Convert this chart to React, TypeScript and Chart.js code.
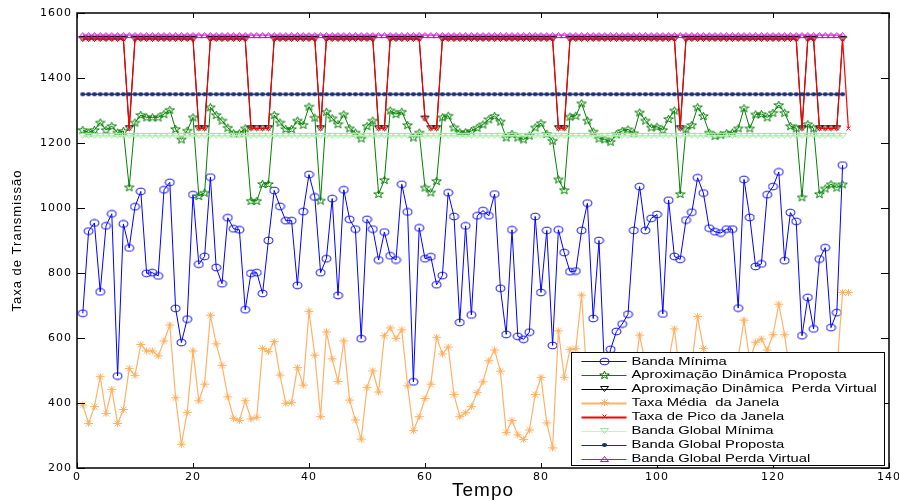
import React, { useEffect, useRef } from "react";
import { Chart, registerables } from "chart.js";
Chart.register(...registerables);

const tempo = [
  1, 2, 3, 4, 5, 6, 7, 8, 9, 10, 11, 12, 13, 14, 15, 16, 17, 18, 19, 20,
  21, 22, 23, 24, 25, 26, 27, 28, 29, 30, 31, 32, 33, 34, 35, 36, 37, 38, 39, 40,
  41, 42, 43, 44, 45, 46, 47, 48, 49, 50, 51, 52, 53, 54, 55, 56, 57, 58, 59, 60,
  61, 62, 63, 64, 65, 66, 67, 68, 69, 70, 71, 72, 73, 74, 75, 76, 77, 78, 79, 80,
  81, 82, 83, 84, 85, 86, 87, 88, 89, 90, 91, 92, 93, 94, 95, 96, 97, 98, 99, 100,
  101, 102, 103, 104, 105, 106, 107, 108, 109, 110, 111, 112, 113, 114, 115, 116, 117, 118, 119, 120,
  121, 122, 123, 124, 125, 126, 127, 128, 129, 130, 131, 132, 133,
];

const xTickLabels = ["0", "20", "40", "60", "80", "100", "120", "140"];
const yTickLabels = ["200", "400", "600", "800", "1000", "1200", "1400", "1600"];

const bandaMinima = [
  676, 929, 954, 742, 945, 982, 483, 951, 877, 1004,
  1051, 799, 801, 791, 1056, 1079, 691, 586, 658, 1041,
  827, 851, 1095, 817, 767, 970, 936, 933, 687, 799,
  801, 737, 900, 1054, 1005, 961, 961, 762, 989, 1103,
  1034, 801, 844, 1029, 731, 1056, 965, 935, 598, 965,
  935, 840, 926, 853, 840, 1073, 988, 465, 939, 844,
  850, 764, 792, 1047, 974, 648, 945, 671, 976, 992,
  976, 1043, 753, 611, 933, 605, 596, 618, 974, 740,
  931, 577, 933, 863, 804, 806, 931, 1015, 660, 900,
  480, 565, 620, 643, 673, 931, 1066, 931, 968, 980,
  674, 1024, 851, 842, 963, 987, 1093, 1046, 938, 927,
  923, 935, 935, 692, 1088, 971, 820, 828, 1041, 1066,
  1111, 838, 986, 959, 607, 725, 628, 843, 878, 632,
  678, 1132,
];

const aproxProposta = [
  1240, 1232, 1240, 1263, 1240, 1252, 1232, 1237, 1064, 1263,
  1286, 1279, 1279, 1279, 1289, 1302, 1243, 1211, 1238, 1279,
  1037, 1047, 1310, 1286, 1269, 1247, 1230, 1230, 1245, 1022,
  1022, 1074, 1074, 1286, 1263, 1243, 1243, 1269, 1256, 1312,
  1278, 1023, 1296, 1276, 1258, 1288, 1245, 1232, 1214, 1252,
  1269, 1043, 1086, 1300, 1289, 1296, 1255, 1217, 1232, 1063,
  1048, 1083, 1279, 1284, 1248, 1233, 1233, 1237, 1247, 1257,
  1273, 1283, 1266, 1217, 1228, 1217, 1211, 1223, 1248, 1261,
  1228, 1207, 1088, 1055, 1281, 1284, 1322, 1269, 1235, 1214,
  1211, 1204, 1227, 1237, 1242, 1230, 1294, 1269, 1248, 1250,
  1240, 1274, 1300, 1043, 1242, 1255, 1310, 1283, 1232, 1222,
  1225, 1230, 1232, 1245, 1307, 1245, 1288, 1289, 1279, 1293,
  1317, 1293, 1252, 1245, 1033, 1258, 1245, 1043, 1060, 1073,
  1063, 1073,
];

const aproxPerdaVirtual = [
  1520, 1520, 1520, 1520, 1520, 1520, 1520, 1520, 1245, 1520,
  1520, 1520, 1520, 1520, 1520, 1520, 1520, 1520, 1520, 1520,
  1245, 1245, 1520, 1520, 1520, 1520, 1520, 1520, 1520, 1245,
  1245, 1245, 1245, 1520, 1520, 1520, 1520, 1520, 1520, 1520,
  1520, 1245, 1520, 1520, 1520, 1520, 1520, 1520, 1520, 1520,
  1520, 1245, 1245, 1520, 1520, 1520, 1520, 1520, 1520, 1275,
  1245, 1245, 1520, 1520, 1520, 1520, 1520, 1520, 1520, 1520,
  1520, 1520, 1520, 1520, 1520, 1520, 1520, 1520, 1520, 1520,
  1520, 1520, 1245, 1245, 1520, 1520, 1520, 1520, 1520, 1520,
  1520, 1520, 1520, 1520, 1520, 1520, 1520, 1520, 1520, 1520,
  1520, 1520, 1520, 1245, 1520, 1520, 1520, 1520, 1520, 1520,
  1520, 1520, 1520, 1520, 1520, 1520, 1520, 1520, 1520, 1520,
  1520, 1520, 1520, 1520, 1245, 1520, 1520, 1245, 1245, 1245,
  1245, 1520,
];

const taxaMediaJanela = [
  394, 337, 389, 481, 368, 442, 337, 380, 506, 485,
  580, 560, 560, 545, 591, 640, 416, 273, 371, 560,
  407, 458, 670, 582, 516, 419, 353, 346, 407, 351,
  356, 568, 558, 589, 486, 399, 401, 509, 455, 682,
  547, 358, 619, 536, 466, 591, 409, 348, 289, 448,
  499, 434, 607, 631, 599, 625, 453, 315, 358, 414,
  458, 602, 551, 572, 426, 358, 370, 389, 432, 465,
  530, 563, 498, 309, 346, 302, 288, 317, 426, 479,
  339, 262, 622, 479, 565, 567, 732, 450, 380, 520,
  470, 400, 430, 510, 540, 480, 609, 520, 450, 500,
  420, 530, 628, 480, 400, 520, 666, 568, 470, 430,
  520, 490, 430, 540, 655, 530, 587, 597, 563, 610,
  704, 610, 480, 380, 430, 520, 470, 400, 450, 530,
  500, 740, 740,
];

const taxaPicoJanela = [
  1520, 1520, 1520, 1520, 1520, 1520, 1520, 1520, 1245, 1520,
  1520, 1520, 1520, 1520, 1520, 1520, 1520, 1520, 1520, 1520,
  1245, 1245, 1520, 1520, 1520, 1520, 1520, 1520, 1520, 1245,
  1245, 1245, 1245, 1520, 1520, 1520, 1520, 1520, 1520, 1520,
  1520, 1245, 1520, 1520, 1520, 1520, 1520, 1520, 1520, 1520,
  1520, 1245, 1245, 1520, 1520, 1520, 1520, 1520, 1520, 1275,
  1245, 1245, 1520, 1520, 1520, 1520, 1520, 1520, 1520, 1520,
  1520, 1520, 1520, 1520, 1520, 1520, 1520, 1520, 1520, 1520,
  1520, 1520, 1245, 1245, 1520, 1520, 1520, 1520, 1520, 1520,
  1520, 1520, 1520, 1520, 1520, 1520, 1520, 1520, 1520, 1520,
  1520, 1520, 1520, 1245, 1520, 1520, 1520, 1520, 1520, 1520,
  1520, 1520, 1520, 1520, 1520, 1520, 1520, 1520, 1520, 1520,
  1520, 1520, 1520, 1520, 1245, 1520, 1520, 1245, 1245, 1245,
  1245, 1520, 1245,
];

const bandaGlobalMinima = [
  1222, 1222, 1222, 1222, 1222, 1222, 1222, 1222, 1222, 1222,
  1222, 1222, 1222, 1222, 1222, 1222, 1222, 1222, 1222, 1222,
  1222, 1222, 1222, 1222, 1222, 1222, 1222, 1222, 1222, 1222,
  1222, 1222, 1222, 1222, 1222, 1222, 1222, 1222, 1222, 1222,
  1222, 1222, 1222, 1222, 1222, 1222, 1222, 1222, 1222, 1222,
  1222, 1222, 1222, 1222, 1222, 1222, 1222, 1222, 1222, 1222,
  1222, 1222, 1222, 1222, 1222, 1222, 1222, 1222, 1222, 1222,
  1222, 1222, 1222, 1222, 1222, 1222, 1222, 1222, 1222, 1222,
  1222, 1222, 1222, 1222, 1222, 1222, 1222, 1222, 1222, 1222,
  1222, 1222, 1222, 1222, 1222, 1222, 1222, 1222, 1222, 1222,
  1222, 1222, 1222, 1222, 1222, 1222, 1222, 1222, 1222, 1222,
  1222, 1222, 1222, 1222, 1222, 1222, 1222, 1222, 1222, 1222,
  1222, 1222, 1222, 1222, 1222, 1222, 1222, 1222, 1222, 1222,
  1222, 1222,
];

const bandaGlobalProposta = [
  1350, 1350, 1350, 1350, 1350, 1350, 1350, 1350, 1350, 1350,
  1350, 1350, 1350, 1350, 1350, 1350, 1350, 1350, 1350, 1350,
  1350, 1350, 1350, 1350, 1350, 1350, 1350, 1350, 1350, 1350,
  1350, 1350, 1350, 1350, 1350, 1350, 1350, 1350, 1350, 1350,
  1350, 1350, 1350, 1350, 1350, 1350, 1350, 1350, 1350, 1350,
  1350, 1350, 1350, 1350, 1350, 1350, 1350, 1350, 1350, 1350,
  1350, 1350, 1350, 1350, 1350, 1350, 1350, 1350, 1350, 1350,
  1350, 1350, 1350, 1350, 1350, 1350, 1350, 1350, 1350, 1350,
  1350, 1350, 1350, 1350, 1350, 1350, 1350, 1350, 1350, 1350,
  1350, 1350, 1350, 1350, 1350, 1350, 1350, 1350, 1350, 1350,
  1350, 1350, 1350, 1350, 1350, 1350, 1350, 1350, 1350, 1350,
  1350, 1350, 1350, 1350, 1350, 1350, 1350, 1350, 1350, 1350,
  1350, 1350, 1350, 1350, 1350, 1350, 1350, 1350, 1350, 1350,
  1350, 1350,
];

const bandaGlobalPerdaVirtual = [
  1532, 1532, 1532, 1532, 1532, 1532, 1532, 1532, 1532, 1532,
  1532, 1532, 1532, 1532, 1532, 1532, 1532, 1532, 1532, 1532,
  1532, 1532, 1532, 1532, 1532, 1532, 1532, 1532, 1532, 1532,
  1532, 1532, 1532, 1532, 1532, 1532, 1532, 1532, 1532, 1532,
  1532, 1532, 1532, 1532, 1532, 1532, 1532, 1532, 1532, 1532,
  1532, 1532, 1532, 1532, 1532, 1532, 1532, 1532, 1532, 1532,
  1532, 1532, 1532, 1532, 1532, 1532, 1532, 1532, 1532, 1532,
  1532, 1532, 1532, 1532, 1532, 1532, 1532, 1532, 1532, 1532,
  1532, 1532, 1532, 1532, 1532, 1532, 1532, 1532, 1532, 1532,
  1532, 1532, 1532, 1532, 1532, 1532, 1532, 1532, 1532, 1532,
  1532, 1532, 1532, 1532, 1532, 1532, 1532, 1532, 1532, 1532,
  1532, 1532, 1532, 1532, 1532, 1532, 1532, 1532, 1532, 1532,
  1532, 1532, 1532, 1532, 1532, 1532, 1532, 1532, 1532, 1532,
  1532, 1532,
];

const seriesLabels = [
  "Banda Mínima",
  "Aproximação Dinâmica Proposta",
  "Aproximação Dinâmica  Perda Virtual",
  "Taxa Média  da Janela",
  "Taxa de Pico da Janela",
  "Banda Global Mínima",
  "Banda Global Proposta",
  "Banda Global Perda Virtual",
];

const BLUE = "#0000ff";
const GREEN = "#008000";
const BLACK = "#000000";
const ORANGE = "#ffb266";
const RED = "#ff0000";
const LIGHTGREEN = "#b3ffb3";
const NAVY = "#1a2e73";
const MAGENTA = "#cc00cc";

type Draw = (g: CanvasRenderingContext2D) => void;
function marker(w: number, h: number, draw: Draw): HTMLCanvasElement {
  const c = document.createElement("canvas");
  c.width = w;
  c.height = h;
  const g = c.getContext("2d") as CanvasRenderingContext2D;
  g.lineWidth = 1;
  draw(g);
  return c;
}

function makeMarkers() {
  const ellipse = marker(11, 9, (g) => {
    g.strokeStyle = BLUE;
    g.beginPath();
    g.ellipse(5.5, 4.5, 4.4, 3.3, 0, 0, Math.PI * 2);
    g.stroke();
  });
  const star = marker(11, 10, (g) => {
    g.strokeStyle = GREEN;
    g.beginPath();
    for (let k = 0; k < 10; k++) {
      const r = k % 2 === 0 ? 4.2 : 1.7;
      const a = -Math.PI / 2 + (k * Math.PI) / 5;
      const px = 5.5 + r * Math.cos(a) * 1.2;
      const py = 5.3 + r * Math.sin(a);
      if (k === 0) g.moveTo(px, py);
      else g.lineTo(px, py);
    }
    g.closePath();
    g.stroke();
  });
  const triDown = (col: string) =>
    marker(11, 8, (g) => {
      g.strokeStyle = col;
      g.beginPath();
      g.moveTo(1.5, 1.5);
      g.lineTo(9.5, 1.5);
      g.lineTo(5.5, 6.5);
      g.closePath();
      g.stroke();
    });
  const triUp = marker(11, 8, (g) => {
    g.strokeStyle = MAGENTA;
    g.beginPath();
    g.moveTo(1.5, 6.5);
    g.lineTo(9.5, 6.5);
    g.lineTo(5.5, 1.5);
    g.closePath();
    g.stroke();
  });
  const asterisk = marker(11, 9, (g) => {
    g.strokeStyle = ORANGE;
    g.beginPath();
    g.moveTo(1, 4.5); g.lineTo(10, 4.5);
    g.moveTo(5.5, 1); g.lineTo(5.5, 8);
    g.moveTo(2.5, 1.5); g.lineTo(8.5, 7.5);
    g.moveTo(8.5, 1.5); g.lineTo(2.5, 7.5);
    g.stroke();
  });
  const cross = marker(7, 7, (g) => {
    g.strokeStyle = RED;
    g.beginPath();
    g.moveTo(1.5, 1.5); g.lineTo(5.5, 5.5);
    g.moveTo(5.5, 1.5); g.lineTo(1.5, 5.5);
    g.stroke();
  });
  const dot = marker(7, 6, (g) => {
    g.fillStyle = NAVY;
    g.beginPath();
    g.ellipse(3.5, 3, 2.6, 2.1, 0, 0, Math.PI * 2);
    g.fill();
  });
  return {
    ellipse,
    star,
    triBlack: triDown(BLACK),
    triLight: triDown("#9be89b"),
    triUp,
    asterisk,
    cross,
    dot,
  };
}

const toXY = (vals: number[]) => vals.map((v, k) => ({ x: tempo[k], y: v }));

export default function App() {
  const ref = useRef<HTMLCanvasElement>(null);

  useEffect(() => {
    const canvas = ref.current as HTMLCanvasElement;
    const m = makeMarkers();

    const defs = [
      { data: bandaMinima, color: BLUE, pt: m.ellipse, lw: 1 },
      { data: aproxProposta, color: GREEN, pt: m.star, lw: 1 },
      { data: aproxPerdaVirtual, color: BLACK, pt: m.triBlack, lw: 1 },
      { data: taxaMediaJanela, color: ORANGE, pt: m.asterisk, lw: 1.2 },
      { data: taxaPicoJanela, color: RED, pt: m.cross, lw: 1.2 },
      { data: bandaGlobalMinima, color: LIGHTGREEN, pt: m.triLight, lw: 1.5 },
      { data: bandaGlobalProposta, color: NAVY, pt: m.dot, lw: 1 },
      { data: bandaGlobalPerdaVirtual, color: MAGENTA, pt: m.triUp, lw: 1 },
    ];

    const framePlugin = {
      id: "frameTicks",
      beforeDraw(chart: any) {
        (chart.ctx as any).letterSpacing = "1px";
      },
      beforeDatasetsDraw(chart: any) {
        (chart.ctx as any).letterSpacing = "0px";
      },
      afterDatasetsDraw(chart: any) {
        const ctx = chart.ctx as CanvasRenderingContext2D;
        const a = chart.chartArea;
        const xs = chart.scales.x;
        const ys = chart.scales.y;
        ctx.save();
        ctx.strokeStyle = "#000";
        ctx.lineWidth = 1;
        ctx.beginPath();
        xs.ticks.forEach((t: any) => {
          const px = Math.round(xs.getPixelForValue(t.value)) + 0.5;
          ctx.moveTo(px, a.bottom);
          ctx.lineTo(px, a.bottom - 5);
          ctx.moveTo(px, a.top);
          ctx.lineTo(px, a.top + 5);
        });
        ys.ticks.forEach((t: any) => {
          const py = Math.round(ys.getPixelForValue(t.value)) + 0.5;
          ctx.moveTo(a.left, py);
          ctx.lineTo(a.left + 8, py);
          ctx.moveTo(a.right, py);
          ctx.lineTo(a.right - 8, py);
        });
        ctx.stroke();
        ctx.lineWidth = 1.5;
        ctx.strokeRect(a.left, a.top, a.right - a.left, a.bottom - a.top);

        // legend box (opaque, inside the plot, bottom-right)
        const lx0 = a.left + 494.5;
        const ly0 = a.top + 339.5;
        const lx1 = a.right - 4.5;
        const ly1 = a.bottom - 2.5;
        ctx.fillStyle = "#fff";
        ctx.fillRect(lx0, ly0, lx1 - lx0, ly1 - ly0);
        ctx.lineWidth = 1;
        ctx.strokeStyle = "#000";
        ctx.strokeRect(lx0, ly0, lx1 - lx0, ly1 - ly0);
        const rowH = 13.9;
        defs.forEach((d, k) => {
          const cy = ly0 + 8.7 + k * rowH;
          ctx.strokeStyle = d.color;
          ctx.lineWidth = k === 3 || k === 4 ? 2 : 1;
          ctx.beginPath();
          ctx.moveTo(lx0 + 10, Math.round(cy) + 0.5);
          ctx.lineTo(lx0 + 55, Math.round(cy) + 0.5);
          ctx.stroke();
          const img = d.pt;
          ctx.drawImage(img, Math.round(lx0 + 32.5 - img.width / 2), Math.round(cy - img.height / 2));
          ctx.save();
          ctx.translate(lx0 + 60, cy + 0.5);
          ctx.scale(1.45, 1);
          ctx.fillStyle = "#000";
          ctx.font = "10.2px 'Liberation Sans', Arial, sans-serif";
          ctx.textBaseline = "middle";
          ctx.fillText(seriesLabels[k], 0, 0);
          ctx.restore();
        });
        ctx.restore();
      },
    };

    const chart = new Chart(canvas, {
      type: "line",
      data: {
        datasets: defs.map((d, k) => ({
          label: seriesLabels[k],
          data: toXY(d.data),
          borderColor: d.color,
          backgroundColor: d.color,
          borderWidth: d.lw,
          pointStyle: d.pt as any,
          pointRadius: 4,
          pointHoverRadius: 4,
          tension: 0,
          fill: false,
          order: 8 - k,
        })),
      },
      options: {
        animation: false,
        responsive: false,
        devicePixelRatio: 1,
        layout: { padding: { left: 0, right: 10, top: 13, bottom: 0 } },
        plugins: {
          legend: { display: false },
          tooltip: { enabled: false },
        },
        scales: {
          x: {
            type: "linear",
            min: 0,
            max: 140,
            ticks: {
              stepSize: 20,
              padding: 3,
              color: "#000",
              font: { family: "'DejaVu Sans', sans-serif", size: 11 },
              callback: (v: any) => {
                const idx = xTickLabels.indexOf(String(v));
                return idx >= 0 ? xTickLabels[idx] : "";
              },
              maxRotation: 0,
            },
            grid: { display: false, drawTicks: false },
            border: { display: false },
            title: {
              display: true,
              text: "Tempo",
              color: "#000",
              font: { family: "'Liberation Sans', Arial, sans-serif", size: 19 },
              padding: { top: 0, bottom: 0 },
            },
            afterFit: (s: any) => {
              s.height = 34;
              s.paddingLeft = 0;
              s.paddingRight = 0;
            },
          },
          y: {
            type: "linear",
            min: 200,
            max: 1600,
            ticks: {
              stepSize: 200,
              padding: 5,
              color: "#000",
              font: { family: "'DejaVu Sans', sans-serif", size: 11 },
              callback: (v: any) => {
                const idx = yTickLabels.indexOf(String(v));
                return idx >= 0 ? yTickLabels[idx] : "";
              },
            },
            grid: { display: false, drawTicks: false },
            border: { display: false },
            title: {
              display: true,
              text: "Taxa de Transmissão",
              color: "#000",
              font: { family: "'Liberation Sans', Arial, sans-serif", size: 13 },
              padding: { top: 10, bottom: 0 },
            },
            afterFit: (s: any) => {
              s.width = 77;
            },
          },
        },
      },
      plugins: [framePlugin],
    });
    return () => chart.destroy();
  }, []);

  return (
    <div style={{ position: "fixed", left: 0, top: 0, width: 899, height: 502, background: "#fff" }}>
      <canvas ref={ref} width={899} height={502} style={{ width: 899, height: 502, display: "block" }} />
    </div>
  );
}
